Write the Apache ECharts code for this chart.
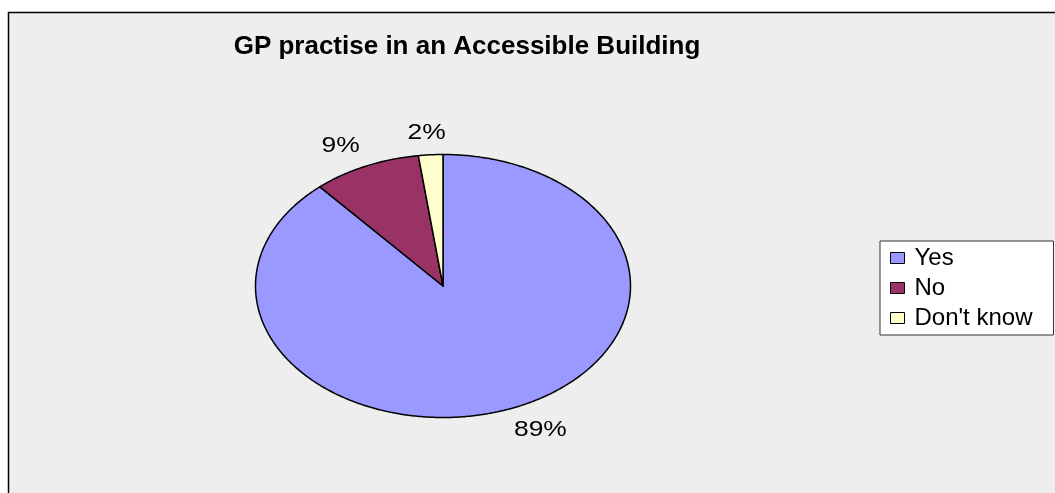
<!DOCTYPE html>
<html>
<head>
<meta charset="utf-8">
<script src="https://cdn.jsdelivr.net/npm/echarts@6/dist/echarts.min.js"></script>
<style>
  html, body { margin: 0; padding: 0; background: #fff; }
  #chart { width: 1055px; height: 493px; }
</style>
</head>
<body>
<div id="chart"></div>
<script>
// data
var categories = ["Yes", "No", "Don't know"];
var values = [88.6, 9.3, 2.1];
var colors = ["#9999ff", "#993366", "#ffffcc"];

var total = values.reduce(function (a, b) { return a + b; }, 0);
var starts = [];
var acc = 0;
for (var i = 0; i < values.length; i++) {
  starts.push(acc);
  acc += values[i];
}

// oval pie (Excel draws it stretched), clockwise from 12 o'clock
var cx = 443, cy = 286, rx = 187.5, ry = 131.5;

function renderSlice(params, api) {
  var start = api.value(0);
  var val = api.value(1);
  var a0 = start / total * Math.PI * 2;
  var a1 = (start + val) / total * Math.PI * 2;
  var pts = [[cx, cy]];
  var n = Math.max(4, Math.ceil((a1 - a0) / 0.01));
  for (var k = 0; k <= n; k++) {
    var a = a0 + (a1 - a0) * k / n;
    pts.push([cx + rx * Math.sin(a), cy - ry * Math.cos(a)]);
  }
  // label just outside the rim at the middle angle
  var am = (a0 + a1) / 2;
  var s = Math.sin(am), c = Math.cos(am);
  var lx = cx + rx * 1.08 * s;
  var ly = cy - ry * 1.08 * c;
  var sx = s * 3, sy = c * 3;
  var align = sx > 0.5 ? "left" : (sx < -0.5 ? "right" : "center");
  var valign = sy > 0.5 ? "bottom" : (sy < -0.5 ? "top" : "middle");
  return {
    type: "group",
    children: [
      {
        type: "polygon",
        shape: { points: pts },
        style: { fill: api.visual("color"), stroke: "#000", lineWidth: 1.5, lineJoin: "round" }
      },
      {
        type: "text",
        x: lx + (align == "center" ? -3 : 0),
        y: ly,
        scaleX: 1.2,
        style: {
          text: Math.round(val / total * 100) + "%",
          fill: "#000",
          font: "22px 'Liberation Sans', Arial, sans-serif",
          align: align,
          verticalAlign: valign
        }
      }
    ]
  };
}

var myChart = echarts.init(document.getElementById("chart"));
var option = {
  backgroundColor: "#fff",
  animation: false,
  graphic: [
    {
      type: "rect",
      z: -10,
      shape: { x: 8.5, y: 12.5, width: 1100, height: 520 },
      style: { fill: "#eeeeee", stroke: "#000", lineWidth: 1.5 }
    }
  ],
  title: {
    text: "GP practise in an Accessible Building",
    left: 462,
    top: 29,
    textAlign: "center",
    textStyle: {
      fontFamily: "'Liberation Sans', Arial, sans-serif",
      fontWeight: "bold",
      fontSize: 26,
      color: "#000"
    }
  },
  legend: {
    orient: "vertical",
    left: 880,
    top: 241,
    backgroundColor: "#fff",
    borderColor: "#333",
    borderWidth: 1,
    padding: [5, 21, 5, 10],
    itemGap: 6,
    itemWidth: 14,
    itemHeight: 11,
    icon: "rect",
    itemStyle: { borderColor: "#000", borderWidth: 1 },
    textStyle: {
      fontFamily: "'Liberation Sans', Arial, sans-serif",
      fontSize: 24,
      lineHeight: 22,
      color: "#000",
      padding: [0, 0, 0, 5]
    },
    data: categories
  },
  series: categories.map(function (name, idx) {
    return {
      type: "custom",
      name: name,
      coordinateSystem: "none",
      silent: true,
      itemStyle: { color: colors[idx] },
      data: [[starts[idx], values[idx]]],
      renderItem: renderSlice
    };
  })
};
myChart.setOption(option);
</script>
</body>
</html>
